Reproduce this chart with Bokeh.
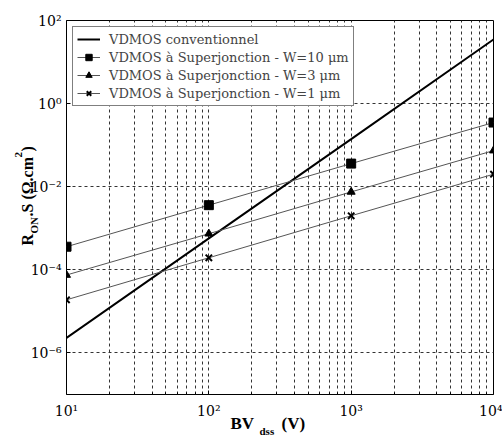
from bokeh.plotting import figure
from bokeh.layouts import column
from bokeh.models import Range1d, FixedTicker, CustomJSTickFormatter, Label
from bokeh.embed import file_html
from bokeh.resources import INLINE

# ---- data ----
bv = [10, 100, 1000, 10000]
ron_conv = [2.3e-6, 5.7e-4, 1.4e-1, 35.0]
ron_w10 = [3.6e-4, 3.6e-3, 3.6e-2, 3.5e-1]
ron_w3 = [7.5e-5, 7.4e-4, 7.5e-3, 7.4e-2]
ron_w1 = [1.9e-5, 1.95e-4, 2.0e-3, 2.0e-2]

labels = [
    "VDMOS conventionnel",
    "VDMOS à Superjonction - W=10 μm",
    "VDMOS à Superjonction - W=3 μm",
    "VDMOS à Superjonction - W=1 μm",
]

x_major = [10, 100, 1000, 10000]
x_minor = [20, 30, 40, 50, 60, 70, 80, 90,
           200, 300, 400, 500, 600, 700, 800, 900,
           2000, 3000, 4000, 5000, 6000, 7000, 8000, 9000]
y_major = [1e-6, 1e-4, 1e-2, 1, 100]

W, H = 502, 444

p = figure(width=W, height=H, x_axis_type="log", y_axis_type="log",
           x_range=Range1d(10, 1e4), y_range=Range1d(1e-7, 1e2),
           output_backend="svg", toolbar_location=None,
           min_border_left=66, min_border_right=9,
           min_border_top=20, min_border_bottom=50)
p.frame_align = False

p.background_fill_color = "white"
p.border_fill_color = "white"
p.outline_line_color = "black"
p.outline_line_width = 1

sup_js = """
const sup = {'-':'\u207b','0':'\u2070','1':'\u00b9','2':'\u00b2','3':'\u00b3','4':'\u2074',
             '5':'\u2075','6':'\u2076','7':'\u2077','8':'\u2078','9':'\u2079'};
const e = Math.round(Math.log10(tick));
return '10' + String(e).split('').map(c => sup[c]).join('');
"""

p.xaxis.ticker = FixedTicker(ticks=x_major, minor_ticks=x_minor)
p.yaxis.ticker = FixedTicker(ticks=y_major, minor_ticks=[])
for ax in (p.xaxis, p.yaxis):
    ax.formatter = CustomJSTickFormatter(code=sup_js)
    ax.major_label_text_font = "DejaVu Serif"
    ax.major_label_text_font_size = "14px"
    ax.major_label_text_color = "black"
    ax.axis_line_color = None
    ax.major_tick_in = 4
    ax.major_tick_out = 0
    ax.minor_tick_in = 2
    ax.minor_tick_out = 0
    ax.major_tick_line_color = "black"
    ax.minor_tick_line_color = "black"
p.xaxis.major_label_standoff = 8
p.yaxis.major_label_standoff = 5

p.xgrid.grid_line_color = "#333333"
p.xgrid.grid_line_dash = "3 3"
p.xgrid.grid_line_width = 1
p.xgrid.minor_grid_line_color = "#333333"
p.xgrid.minor_grid_line_dash = "3 3"
p.xgrid.minor_grid_line_width = 1
p.ygrid.grid_line_color = "#333333"
p.ygrid.grid_line_dash = "3 3"
p.ygrid.grid_line_width = 1

p.line(bv, ron_conv, line_color="black", line_width=2, legend_label=labels[0])
p.line(bv, ron_w10, line_color="#555555", line_width=1, legend_label=labels[1])
p.scatter(bv, ron_w10, marker="square", size=9, color="black", legend_label=labels[1])
p.line(bv, ron_w3, line_color="#555555", line_width=1, legend_label=labels[2])
p.scatter(bv, ron_w3, marker="triangle", size=8, color="black", legend_label=labels[2])
p.line(bv, ron_w1, line_color="#555555", line_width=1, legend_label=labels[3])
p.scatter(bv, ron_w1, marker="x", size=9, line_color="black", line_width=2, legend_label=labels[3])

lg = p.legend[0]
lg.location = "top_left"
lg.margin = 6
lg.padding = 4
lg.spacing = 2
lg.label_height = 16
lg.glyph_height = 16
lg.glyph_width = 23
lg.label_standoff = 9
lg.label_text_font = "DejaVu Serif"
lg.label_text_font_size = "13px"
lg.border_line_color = "black"
lg.border_line_width = 1
lg.background_fill_color = "white"
lg.background_fill_alpha = 1

# ---- transparent overlay (same size) carrying the composed axis titles ----
ov = figure(width=W, height=H, x_range=Range1d(0, W), y_range=Range1d(H, 0),
            output_backend="svg", toolbar_location=None,
            x_axis_location=None, y_axis_location=None,
            min_border=0, margin=(-H, 0, 0, 0))
ov.frame_align = False
ov.min_border_left = ov.min_border_right = ov.min_border_top = ov.min_border_bottom = 0
ov.grid.visible = False
ov.outline_line_color = None
ov.background_fill_alpha = 0
ov.border_fill_alpha = 0


def lab(text, x, y, size, angle=0):
    ov.add_layout(Label(x=x, y=y, text=text,
                        text_font="Liberation Serif", text_font_style="bold",
                        text_font_size=f"{size}px", text_color="black",
                        angle=angle, angle_units="deg",
                        text_align="left", text_baseline="alphabetic"))


# x axis title: BV_dss (V)
lab("BV", 230, 423, 17)
lab("dss", 259, 430, 11)
lab("(V)", 281, 423, 17)

# y axis title: R_ON.S (Ω.cm²)
lab("R", 27, 245, 16, 90)
lab("ON", 33, 233, 11, 90)
lab(".S (Ω.cm", 27, 216, 16, 90)
lab("2", 18, 157, 11, 90)
lab(")", 27, 151, 16, 90)

layout = column(p, ov)
open("out.html", "w").write(file_html(layout, INLINE))
